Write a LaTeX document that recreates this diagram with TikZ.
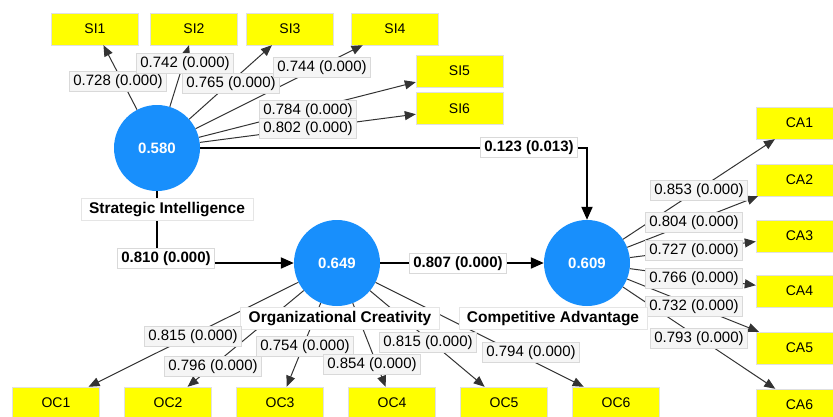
\documentclass[tikz,border=0pt]{standalone}
\usepackage{fontspec}
\setmainfont{Liberation Sans}
\usetikzlibrary{arrows.meta}
\definecolor{lvblue}{RGB}{24,143,252}
\definecolor{ind}{RGB}{255,255,0}
\begin{document}
\begin{tikzpicture}[x=1pt,y=-1pt,
 lv/.style={circle,fill=lvblue,minimum size=86pt,inner sep=0pt,text=white,font=\fontsize{15}{17}\selectfont\bfseries},
 mv/.style={rectangle,fill=ind,draw=black!12,minimum width=87pt,minimum height=32pt,inner sep=0pt,font=\fontsize{14}{16}\selectfont},
 ld/.style={fill=white!96!black,draw=black!15,line width=0.6pt,inner xsep=4pt,inner ysep=3pt,text height=11pt,text depth=3pt,font=\fontsize{15}{17}\selectfont},
 pc/.style={ld,fill=white,font=\fontsize{15}{17}\selectfont\bfseries},
 nm/.style={fill=white,draw=black!10,line width=0.6pt,inner xsep=8pt,inner ysep=4pt,text height=11pt,text depth=3pt,font=\fontsize{15.5}{17}\selectfont\bfseries},
 load/.style={draw=black!80,line width=1pt,-{Triangle[length=11pt,width=9pt]}},
 pth/.style={draw=black,line width=2pt,-{Triangle[length=13pt,width=11pt]}}]
\useasboundingbox (0,0) rectangle (833,416);
% latent variables
\node[lv] (si) at (157,148) {0.580};
\node[lv] (oc) at (337,263) {0.649};
\node[lv] (ca) at (587,263) {0.609};
% indicators
\node[mv] (si1) at (95,29) {SI1};
\node[mv] (si2) at (194,29) {SI2};
\node[mv] (si3) at (290,29) {SI3};
\node[mv] (si4) at (395,29) {SI4};
\node[mv] (si5) at (459.5,71) {SI5};
\node[mv] (si6) at (459.5,108.5) {SI6};
\node[mv] (ca1) at (799.5,123) {CA1};
\node[mv] (ca2) at (799.5,180) {CA2};
\node[mv] (ca3) at (799.5,236) {CA3};
\node[mv] (ca4) at (799.5,291) {CA4};
\node[mv] (ca5) at (799.5,348) {CA5};
\node[mv] (ca6) at (799.5,405) {CA6};
\node[mv] (oc1) at (56,403) {OC1};
\node[mv] (oc2) at (168,403) {OC2};
\node[mv] (oc3) at (280,403) {OC3};
\node[mv] (oc4) at (392,403) {OC4};
\node[mv] (oc5) at (504,403) {OC5};
\node[mv] (oc6) at (616,403) {OC6};
% loadings
\foreach \t in {si1,si2,si3,si4,si5,si6} \draw[load] (si) -- (\t);
\foreach \t in {ca1,ca2,ca3,ca4,ca5,ca6} \draw[load] (ca) -- (\t);
\foreach \t in {oc1,oc2,oc3,oc4,oc5,oc6} \draw[load] (oc) -- (\t);
% structural paths
\draw[pth] (si) |- (oc);
\draw[pth] (si) -| (ca);
\draw[pth] (oc) -- (ca);
% loading labels
\node[ld] (l1) at (118,81) {0.728 (0.000)};
\node[ld] (l2) at (185,63) {0.742 (0.000)};
\node[ld] (l3) at (231,83) {0.765 (0.000)};
\node[ld] (l4) at (322,67) {0.744 (0.000)};
\node[ld] (l5) at (308,110) {0.784 (0.000)};
\node[ld] (l6) at (308,128) {0.802 (0.000)};
\node[ld] (c1) at (699,190) {0.853 (0.000)};
\node[ld] (c2) at (694,222) {0.804 (0.000)};
\node[ld] (c3) at (694,250) {0.727 (0.000)};
\node[ld] (c4) at (694,278) {0.766 (0.000)};
\node[ld] (c5) at (694,306) {0.732 (0.000)};
\node[ld] (c6) at (699,338) {0.793 (0.000)};
% names
\node[nm] (nsi) at (167,209) {Strategic Intelligence};
\node[nm] (noc) at (340,318) {Organizational Creativity};
\node[nm] (nca) at (553,318) {Competitive Advantage};
\node[ld] (o1) at (193,336) {0.815 (0.000)};
\node[ld] (o2) at (213,366) {0.796 (0.000)};
\node[ld] (o3) at (305,346) {0.754 (0.000)};
\node[ld] (o4) at (372,364) {0.854 (0.000)};
\node[ld] (o5) at (428,342) {0.815 (0.000)};
\node[ld] (o6) at (531,352) {0.794 (0.000)};
% path labels
\node[pc] (p1) at (166,258) {0.810 (0.000)};
\node[pc] (p2) at (529,147) {0.123 (0.013)};
\node[pc] (p3) at (458,263) {0.807 (0.000)};
\end{tikzpicture}
\end{document}
